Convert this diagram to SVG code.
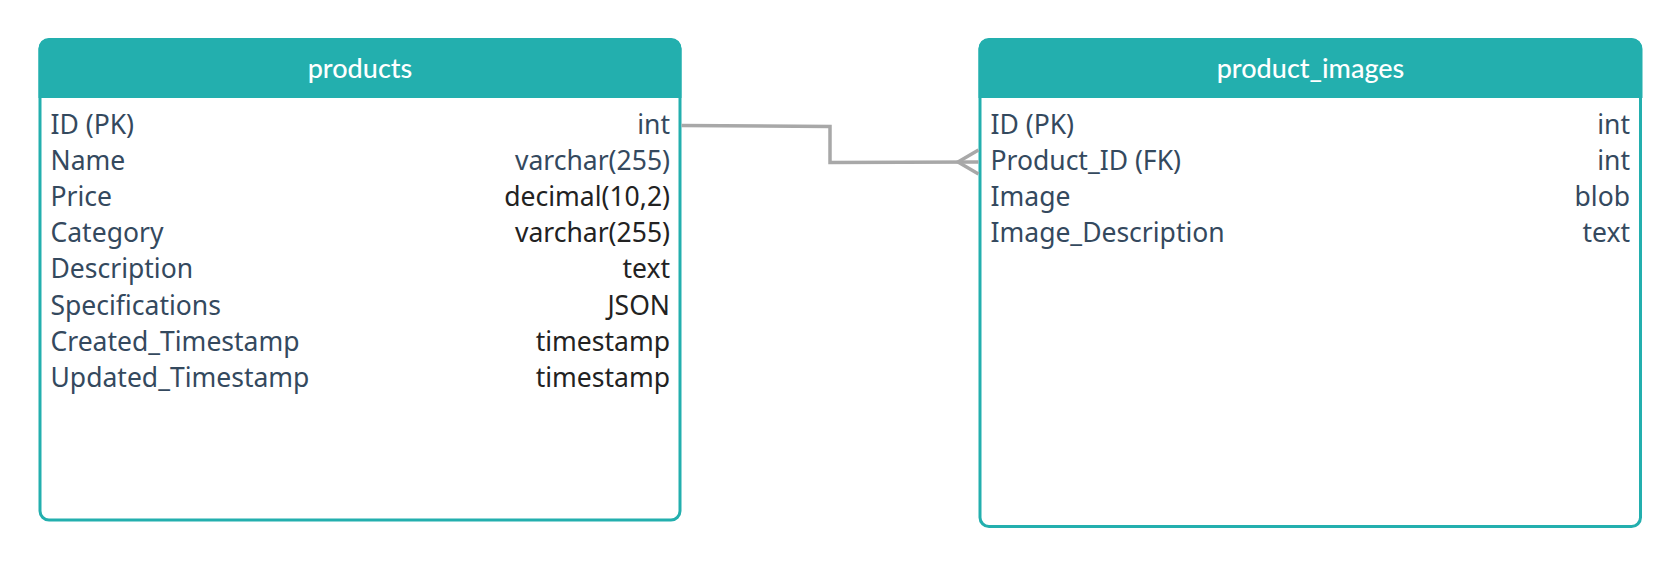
<svg xmlns="http://www.w3.org/2000/svg" width="1680" height="567" viewBox="0 0 1680 567">
<style>
.box{fill:#ffffff;stroke:#23afae;stroke-width:3}
.hdr{fill:#23afae}
.title{font-family:Lato,"Noto Sans",sans-serif;font-weight:500;font-size:27px;fill:#ffffff;text-anchor:middle}
.f{font-family:"Noto Sans","Open Sans",sans-serif;font-size:26.5px;fill:#34495e}
.t{font-family:"Noto Sans","Open Sans",sans-serif;font-size:26.5px;fill:#34495e;text-anchor:end}
.d{fill:#222222}
.conn{fill:none;stroke:#a8a8a8;stroke-width:3.5}
</style>
<rect width="1680" height="567" fill="#ffffff"/>
<g id="products">
<rect class="box" x="40" y="39.5" width="640" height="480.5" rx="9"/>
<path class="hdr" d="M38.5 98 V49 a10.5 10.5 0 0 1 10.5 -10.5 H671 a10.5 10.5 0 0 1 10.5 10.5 V98 Z"/>
<text class="title" x="360" y="78">products</text>
<text class="f" x="50.5" y="134">ID (PK)</text>
<text class="f" x="50.5" y="170.1">Name</text>
<text class="f" x="50.5" y="206.2">Price</text>
<text class="f" x="50.5" y="242.3">Category</text>
<text class="f" x="50.5" y="278.4">Description</text>
<text class="f" x="50.5" y="314.5">Specifications</text>
<text class="f" x="50.5" y="350.6">Created_Timestamp</text>
<text class="f" x="50.5" y="386.7">Updated_Timestamp</text>
<text class="t" x="670" y="134">int</text>
<text class="t" x="670" y="170.1">varchar(255)</text>
<text class="t d" x="670" y="206.2">decimal(10,2)</text>
<text class="t d" x="670" y="242.3">varchar(255)</text>
<text class="t d" x="670" y="278.4">text</text>
<text class="t d" x="670" y="314.5">JSON</text>
<text class="t d" x="670" y="350.6">timestamp</text>
<text class="t d" x="670" y="386.7">timestamp</text>
</g>
<g id="product_images">
<rect class="box" x="980" y="39.5" width="660.5" height="487" rx="9"/>
<path class="hdr" d="M978.5 98 V49 a10.5 10.5 0 0 1 10.5 -10.5 H1632 a10.5 10.5 0 0 1 10.5 10.5 V98 Z"/>
<text class="title" x="1310.5" y="78">product_images</text>
<text class="f" x="990.5" y="134">ID (PK)</text>
<text class="f" x="990.5" y="170.1">Product_ID (FK)</text>
<text class="f" x="990.5" y="206.2">Image</text>
<text class="f" x="990.5" y="242.3">Image_Description</text>
<text class="t" x="1630" y="134">int</text>
<text class="t" x="1630" y="170.1">int</text>
<text class="t" x="1630" y="206.2">blob</text>
<text class="t" x="1630" y="242.3">text</text>
</g>
<g id="connectors">
<polyline class="conn" points="681.5,125.5 830,126.5 830,162.5 978.5,162"/>
<path class="conn" d="M978.5 150 L958 162 L978.5 174"/>
</g>
</svg>
